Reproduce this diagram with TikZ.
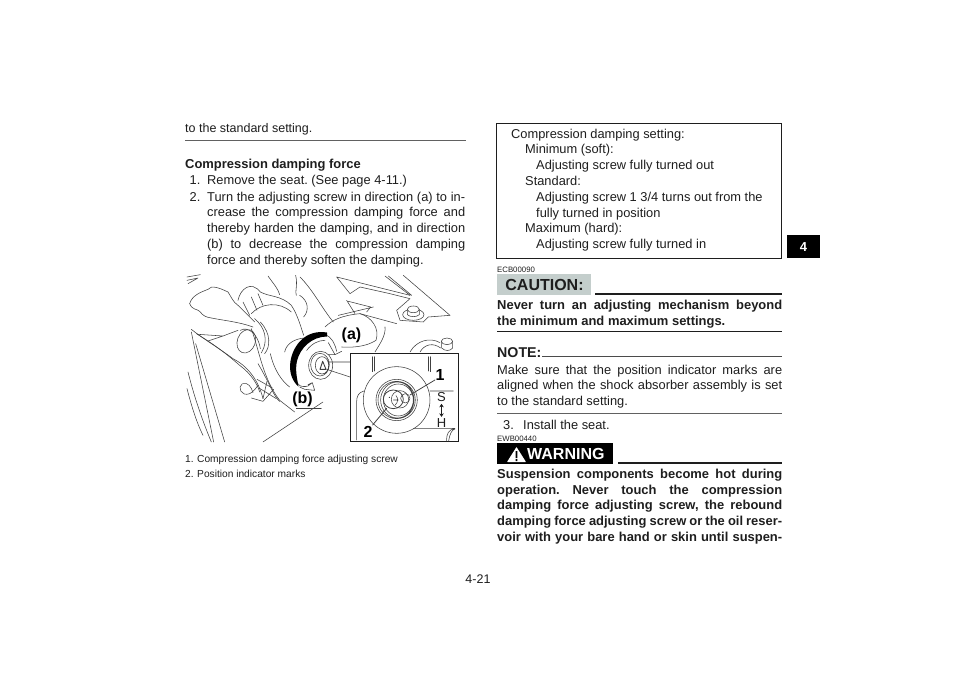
\documentclass[tikz,border=0pt]{standalone}
\usepackage{fontspec}
\usetikzlibrary{arrows.meta}
\setmainfont{Liberation Sans}
\definecolor{ink}{HTML}{1E1E1E}
\definecolor{cautiongray}{HTML}{C4CECC}
\newcommand{\jline}[2]{\makebox[#1][s]{#2}}
\tikzset{
 txt/.style={anchor=base west,inner sep=0pt,text=ink,font=\fontsize{12.85}{15}\selectfont},
 btxt/.style={anchor=base west,inner sep=0pt,text=ink,font=\fontsize{12.95}{15}\selectfont\bfseries},
 captxt/.style={anchor=base west,inner sep=0pt,text=ink,font=\fontsize{10.2}{12}\selectfont},
 code/.style={anchor=base west,inner sep=0pt,text=ink,font=\fontsize{7.8}{10}\selectfont},
 lab/.style={anchor=center,inner sep=0pt,text=black,font=\fontsize{16}{18}\selectfont\bfseries},
 art/.style={draw=black!75,line width=.55pt,line cap=round,line join=round},
 heavyrule/.style={draw=ink,line width=1.3pt},
 thinrule/.style={draw=ink!70,line width=1pt},
}
\begin{document}
\frenchspacing
\begin{tikzpicture}[x=1pt,y=-1pt]
\useasboundingbox[fill=white] (0,0) rectangle (960,679);
% left column
\node[txt,font=\fontsize{12.5}{15}\selectfont] (a1) at (185,132.3) {to the standard setting.};
\draw[thinrule] (185,140.7) coordinate (r1a) -- (465.5,140.7) coordinate (r1b);
\node[btxt] (a2) at (185,169) {Compression damping force};
\node[txt] (n1) at (187,185) {\hspace*{2.5pt}1.};
\node[txt] (a3) at (207,185) {Remove the seat. (See page 4-11.)};
\node[txt] (n2) at (187,201) {\hspace*{2.5pt}2.};
\node[txt] (a4) at (207,201) {\jline{258pt}{Turn the adjusting screw in direction (a) to in-}};
\node[txt] (a5) at (207,216.7) {\jline{258pt}{crease the compression damping force and}};
\node[txt] (a6) at (207,232.4) {\jline{258pt}{thereby harden the damping, and in direction}};
\node[txt] (a7) at (207,248.2) {\jline{258pt}{(b) to decrease the compression damping}};
\node[txt] (a8) at (207,264) {force and thereby soften the damping.};
% illustration: left part
\begin{scope}[shift={(183,272)},x=.3333pt,y=-.3333pt]
 \draw[art] (12,15) -- (52,8) (12,25) -- (45,18) -- (15,35);
 \draw[art] (20,95) .. controls (28,70) and (50,62) .. (75,52) .. controls (85,38) and (110,48) .. (135,60) .. controls (145,75) and (150,90) .. (165,100);
 \draw[art] (20,95) .. controls (28,115) and (42,110) .. (50,118) .. controls (60,130) and (65,135) .. (85,138) .. controls (120,145) and (170,150) .. (210,165);
 \draw[art] (165,85) .. controls (172,50) and (205,25) .. (232,60) .. controls (260,75) and (295,70) .. (325,100) .. controls (345,130) and (355,170) .. (362,190);
 \draw[art] (205,125) .. controls (235,92) and (290,88) .. (325,120);
 \draw[art] (180,90) -- (200,130) (205,75) -- (222,115) (225,65) -- (240,100) (165,100) -- (215,150);
 \draw[art] (350,70) .. controls (375,85) and (380,115) .. (362,135) (255,12) .. controls (275,40) and (285,50) .. (290,68);
 \draw[art] (338,10) .. controls (345,40) and (335,60) .. (340,70);
 % knob
 \draw[art,rotate around={-20:(190,208)}] (190,208) ellipse (27 and 36);
 \draw[art] (172,175) .. controls (195,162) and (225,185) .. (232,230);
 \draw[art] (215,140) .. controls (245,165) and (258,205) .. (235,243) (232,150) .. controls (265,185) and (262,225) .. (245,245);
 % tube
 \draw[art] (25,172) .. controls (60,200) and (110,230) .. (150,260) .. controls (190,280) and (225,320) .. (240,380);
 \draw[art] (40,185) .. controls (90,215) and (130,245) .. (170,280) .. controls (205,305) and (225,340) .. (230,360);
 \draw[art] (45,187) -- (120,192) -- (165,175) (75,207) -- (120,192);
 \draw[art] (25,180) -- (92,510) (38,215) -- (125,510);
 \draw[art] (15,300) .. controls (35,380) and (60,450) .. (85,510) (12,350) .. controls (25,400) and (40,450) .. (60,490);
 % body edge
 \draw[art] (205,170) .. controls (230,240) and (240,320) .. (290,385) -- (335,420);
 \draw[art] (225,275) .. controls (240,300) and (250,320) .. (260,340) .. controls (272,365) and (280,380) .. (290,388);
 \draw[art] (222,322) -- (268,348) (228,348) -- (280,380) (240,380) -- (252,328) (272,352) -- (240,388) (205,378) -- (240,388);
 \draw[art] (178,335) .. controls (162,345) and (175,375) .. (200,365) .. controls (210,360) and (218,350) .. (225,340);
 \draw[art] (180,335) .. controls (195,330) and (205,345) .. (210,362);
 \draw[art] (240,510) -- (420,390);
 \draw[art] (262,245) .. controls (275,300) and (300,330) .. (320,345) (305,240) .. controls (310,215) and (335,200) .. (365,198);
 \draw[art] (340,410) -- (415,410);
 % (b) arrow
 \draw[art] (345,335) .. controls (350,345) and (365,345) .. (375,342) (388,332) -- (395,355) -- (365,352) -- (350,345) (375,338) -- (388,332) -- (375,342);
\end{scope}
% illustration: upper right part
\begin{scope}[shift={(300,272)},x=.3333pt,y=-.3333pt]
 \draw[art] (110,15) -- (330,70) (110,15) -- (150,65) -- (180,45) -- (270,65) -- (330,80) -- (290,115) -- (300,145) -- (370,150) -- (385,135) -- (450,130);
 \draw[art] (255,12) -- (330,70) (265,12) -- (335,70) (310,10) -- (450,130);
 \draw[art] (145,88) -- (212,105) -- (200,120) (115,130) -- (220,105) (140,85) -- (165,125);
 \draw[art] (75,165) .. controls (95,145) and (125,130) .. (180,125) .. controls (215,135) and (240,170) .. (228,205) .. controls (205,220) and (170,228) .. (125,225);
 \draw[art] (180,125) -- (290,155) (0,15) .. controls (40,55) and (70,115) .. (100,150);
 \draw[art] (225,240) .. controls (240,215) and (258,190) .. (255,165);
 % bolts
 \draw[art] (340,128) ellipse (32 and 17);
 \draw[fill=white,art] (322,112) -- (322,128) .. controls (330,136) and (350,136) .. (358,128) -- (358,112);
 \draw[fill=white,art] (340,112) ellipse (18 and 10);
 \draw[art] (330,240) .. controls (350,205) and (390,195) .. (420,212) (360,240) .. controls (375,215) and (400,212) .. (422,228);
 \draw[art] (425,208) -- (425,228) .. controls (435,238) and (450,238) .. (458,228) -- (458,208);
 \draw[fill=white,art] (441,208) ellipse (17 and 10);
 \draw[art] (75,205) .. controls (55,205) and (35,215) .. (20,235);
 % (a) arrow
 \draw[art] (75,187) .. controls (95,195) and (105,215) .. (110,238) (85,212) -- (105,248) -- (125,238) (85,248) -- (105,248);
 % adjuster
 \draw[art] (62,280) ellipse (36 and 42) (60,278) ellipse (28 and 34) (66,280) ellipse (20 and 26);
 \draw[art,line width=.9pt] (68,268) -- (60,292) -- (78,292) -- cycle;
 \draw[art] (85,270) -- (150,270) (80,292) -- (150,315);
\end{scope}
% black ring (crescent)
\fill[black] (327,332.5) .. controls (305,329) and (293,346) .. (290.5,361) .. controls (288.5,373) and (293,382) .. (298.5,386.5) .. controls (297,378) and (295,370) .. (297,361) .. controls (300,348) and (312,336.5) .. (327,336.5) -- cycle;
\node[lab] (la) at (351.5,335) {(a)};
\node[lab] (lb) at (302.5,399) {(b)};
% inset
\node[draw=ink,fill=white,line width=.9pt,minimum width=108pt,minimum height=88pt,inner sep=0pt] (inset) at (404.5,397.5) {};
\begin{scope}[shift={(180,265)},x=.3333pt,y=-.3333pt]
 \draw[art] (650,405) circle (100);
 \draw[art] (650,405) circle (62) (650,405) circle (56) (652,405) ellipse (50 and 54) (655,405) ellipse (45 and 48);
 \draw[art] (660,403) circle (26);
 \draw[art] (676,400) circle (14) ;
 \draw[art,line width=.8pt] (640,403) ellipse (30 and 28);
 \draw[art] (648,392) .. controls (655,400) and (655,410) .. (646,420) (640,405) -- (655,405);
 \fill[black] (628,397) circle (1.6);
 \draw[art] (578,275) -- (578,320) (584,275) -- (584,318) (745,275) -- (745,318) (752,275) -- (752,320);
 \draw[art] (552,378) .. controls (535,382) and (530,395) .. (530,410) -- (530,525);
 \draw[art] (750,378) -- (820,378) (700,490) -- (825,490) .. controls (805,495) and (800,505) .. (800,528) (806,528) .. controls (810,505) and (815,495) .. (825,492);
 \draw[art,line width=.8pt] (690,390) -- (765,345) (620,430) -- (578,480);
\end{scope}
\node[lab] (l1) at (440,375) {1};
\node[lab] (l2) at (368,432) {2};
\node[anchor=center,inner sep=0pt,text=ink,font=\fontsize{13}{15}\selectfont] (ls) at (441.5,397.5) {S};
\node[anchor=center,inner sep=0pt,text=ink,font=\fontsize{13}{15}\selectfont] (lh) at (441.5,423) {H};
\draw[draw=ink,line width=1.1pt,shorten >=1.5pt,shorten <=1.5pt,{Stealth[length=3.5pt,width=4.5pt]}-{Stealth[length=3.5pt,width=4.5pt]}] (ls.south) -- (lh.north);
% captions
\node[captxt] (c1n) at (185,462) {1.};
\node[captxt] (c1) at (197,462) {Compression damping force adjusting screw};
\node[captxt] (c2n) at (185,477) {2.};
\node[captxt] (c2) at (197,477) {Position indicator marks};
% right column
\draw[draw=ink,line width=1pt] (496.5,123.5) rectangle (781,258.5);
\node[txt] (b1) at (511,138.3) {Compression damping setting:};
\node[txt] (b2) at (525,154) {Minimum (soft):};
\node[txt] (b3) at (536,170) {Adjusting screw fully turned out};
\node[txt] (b4) at (525,185.7) {Standard:};
\node[txt] (b5) at (536,201.7) {Adjusting screw 1 3/4 turns out from the};
\node[txt] (b6) at (536,217.3) {fully turned in position};
\node[txt] (b7) at (525,232.7) {Maximum (hard):};
\node[txt] (b8) at (536,248.3) {Adjusting screw fully turned in};
\node[code] (e1) at (497,272) {ECB00090};
\node[fill=cautiongray,minimum width=94pt,minimum height=21pt,inner sep=0pt,text=ink,font=\fontsize{16}{18}\selectfont\bfseries] (caut) at (544,284.5) {\hspace*{1pt}CAUTION:};
\draw[heavyrule] (595,294) coordinate (r2a) -- (782,294) coordinate (r2b);
\node[btxt] (c3) at (497,309) {\jline{285pt}{Never turn an adjusting mechanism beyond}};
\node[btxt] (c4) at (497,325) {the minimum and maximum settings.};
\draw[heavyrule] (497,331.5) coordinate (r3a) -- (782,331.5) coordinate (r3b);
\node[anchor=base west,inner sep=0pt,text=ink,font=\fontsize{14.2}{16}\selectfont\bfseries] (note) at (497,357) {NOTE:};
\draw[draw=ink!80,line width=.8pt] (542,356) coordinate (r4a) -- (782,356) coordinate (r4b);
\node[txt] (d1) at (497,374) {\jline{285pt}{Make sure that the position indicator marks are}};
\node[txt] (d2) at (497,389.5) {\jline{285pt}{aligned when the shock absorber assembly is set}};
\node[txt] (d3) at (497,405) {to the standard setting.};
\draw[thinrule] (497,413.5) coordinate (r5a) -- (782,413.5) coordinate (r5b);
\node[txt] (d4n) at (503,429) {3.};
\node[txt] (d4) at (523,429) {Install the seat.};
\node[code] (e2) at (497,441) {EWB00440};
\node[fill=black,minimum width=116pt,minimum height=21pt,inner sep=0pt] (warn) at (555,453.5) {};
\fill[white,rounded corners=.5pt] (507,462) -- (516.5,447) -- (526,462) -- cycle;
\fill[black] (515.7,451) rectangle (517.3,458) (515.7,459) rectangle (517.3,461);
\node[anchor=west,inner sep=0pt,text=white,font=\fontsize{16}{18}\selectfont\bfseries] (warnt) at (527,454) {WARNING};
\draw[heavyrule] (618,463) coordinate (r6a) -- (782,463) coordinate (r6b);
\node[btxt] (f1) at (497,478.3) {\jline{285pt}{Suspension components become hot during}};
\node[btxt] (f2) at (497,494) {\jline{285pt}{operation. Never touch the compression}};
\node[btxt] (f3) at (497,509.5) {\jline{285pt}{damping force adjusting screw, the rebound}};
\node[btxt] (f4) at (497,525.7) {\jline{285pt}{damping force adjusting screw or the oil reser-}};
\node[btxt] (f5) at (497,541) {\jline{285pt}{voir with your bare hand or skin until suspen-}};
\node[anchor=center,inner sep=0pt,text=ink,font=\fontsize{12.5}{14}\selectfont] (pg) at (478,579) {4-21};
\node[fill=black,minimum width=32.5pt,minimum height=23.5pt,inner sep=0pt,text=white,font=\fontsize{13}{15}\selectfont\bfseries] (tab) at (803.5,246.7) {4};
\end{tikzpicture}
\end{document}
